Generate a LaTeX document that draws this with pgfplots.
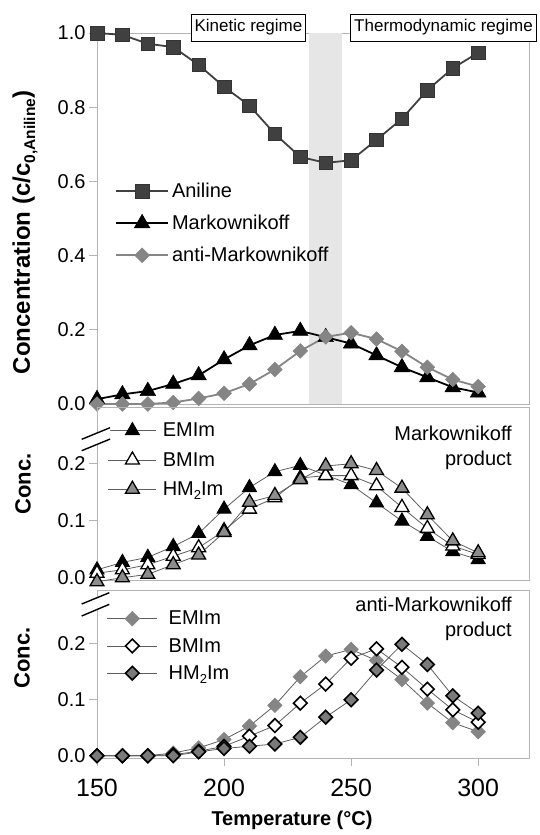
\documentclass[border=0pt]{standalone}
\usepackage{pgfplots}
\usepackage{pgfplotstable}
\pgfplotsset{compat=1.18}
\usepackage{fontspec}
\setmainfont{Liberation Sans}
\definecolor{axgray}{HTML}{B4B4B4}
\definecolor{anil}{HTML}{404040}
\definecolor{antigray}{HTML}{858585}
\definecolor{midgray}{HTML}{8C8C8C}
\definecolor{hmgray}{HTML}{7A7A7A}
\definecolor{thinline}{HTML}{5E5E5E}
\definecolor{shadecol}{HTML}{E6E6E6}
\newcommand{\fs}[1]{\fontsize{#1}{#1}\selectfont}
\newcommand{\sub}[2]{\raisebox{-0.22em}{\fontsize{#1}{#1}\selectfont #2}}

\pgfplotstableread{
T Anil Mark Anti
150 1.000 0.013 0.000
160 0.995 0.026 0.000
170 0.971 0.035 0.000
180 0.962 0.054 0.004
190 0.914 0.077 0.015
200 0.855 0.120 0.029
210 0.804 0.158 0.054
220 0.728 0.186 0.093
230 0.666 0.197 0.143
240 0.650 0.180 0.181
250 0.657 0.163 0.192
260 0.712 0.131 0.175
270 0.769 0.099 0.142
280 0.846 0.072 0.099
290 0.905 0.045 0.066
300 0.947 0.031 0.047
}\toptab

\pgfplotstableread{
T EMIm BMIm HMIm
150 0.013 0.007 -0.008
160 0.026 0.013 -0.001
170 0.035 0.022 0.005
180 0.054 0.037 0.022
190 0.077 0.052 0.039
200 0.120 0.082 0.079
210 0.158 0.120 0.132
220 0.186 0.140 0.144
230 0.197 0.175 0.172
240 0.180 0.179 0.196
250 0.163 0.179 0.200
260 0.131 0.161 0.188
270 0.099 0.123 0.157
280 0.072 0.086 0.110
290 0.045 0.055 0.064
300 0.031 0.040 0.043
}\midtab

\pgfplotstableread{
T EMIm BMIm HMIm
150 0.000 0.000 0.000
160 0.000 0.000 0.000
170 0.000 0.000 0.000
180 0.005 0.002 0.000
190 0.014 0.008 0.007
200 0.029 0.017 0.013
210 0.053 0.035 0.017
220 0.090 0.054 0.021
230 0.141 0.094 0.033
240 0.178 0.128 0.069
250 0.190 0.174 0.100
260 0.170 0.191 0.153
270 0.136 0.158 0.199
280 0.094 0.119 0.163
290 0.059 0.082 0.107
300 0.043 0.060 0.076
}\bottab

\pgfplotsset{
  panel/.style={
    scale only axis, width=432pt, xmin=150, xmax=320, clip=false,
    axis line style={draw=axgray, line width=1pt},
    every tick/.style={draw=axgray, line width=1pt},
    tick align=outside, major tick length=8pt,
    ytick pos=left, xtick pos=left,
    /pgf/number format/assume math mode=true,
    yticklabel style={font=\fs{20}, /pgf/number format/fixed, /pgf/number format/fixed zerofill, /pgf/number format/precision=1},
    legend cell align=left,
    legend style={draw=none, fill=none, font=\fs{20}, inner sep=0pt,
      nodes={inner sep=1pt}},
  },
  limg/.style={legend image code/.code={\draw[mark repeat=2,mark phase=2,##1] plot coordinates {(0pt,0pt) (#1/2,0pt) (#1,0pt)};}},
}

\begin{document}
\begin{tikzpicture}
% ---------- top panel ----------
\begin{axis}[panel, at={(97pt,-404pt)}, height=371pt, ymin=0, ymax=1,
  ytick={0,0.2,0.4,0.6,0.8,1.0}, xtick=\empty, limg=52pt,
  legend style={at={(axis description cs:0.0417,0.487)}, anchor=west, row sep=14pt,
    /tikz/every odd column/.append style={column sep=2pt}}]
  \fill[shadecol] (axis cs:233.5,0) rectangle (axis cs:246.5,1);
  \addplot[color=anil, line width=1.8pt, mark=square*, mark size=6.8pt,
    mark options={fill=anil, draw=black!80, line width=0.5pt}] table[x=T,y=Anil]{\toptab};
  \addlegendentry{Aniline}
  \addplot[black, line width=1.8pt, mark=triangle*, mark size=9pt,
    mark options={fill=black, line width=0.5pt}] table[x=T,y=Mark]{\toptab};
  \addlegendentry{Markownikoff}
  \addplot[antigray, line width=1.8pt, mark=square*, mark size=5.2pt,
    mark options={rotate=45, fill=antigray, draw=antigray, line width=0.5pt}] table[x=T,y=Anti]{\toptab};
  \addlegendentry{anti-Markownikoff}
\end{axis}
% ---------- middle panel ----------
\begin{axis}[panel, at={(97pt,-580pt)}, height=173pt, ymin=-0.005, ymax=0.3,
  ytick={0,0.1,0.2}, xtick=\empty, limg=48pt,
  legend style={at={(axis description cs:0.025,0.694)}, anchor=west, row sep=12pt,
    /tikz/every odd column/.append style={column sep=5pt}}]
  \addplot[thinline, line width=0.8pt, mark=triangle*, mark size=8pt,
    mark options={fill=black, draw=black, line width=1pt}] table[x=T,y=EMIm]{\midtab};
  \addlegendentry{EMIm}
  \addplot[thinline, line width=0.8pt, mark=triangle*, mark size=8pt,
    mark options={fill=white, draw=black, line width=1.3pt}] table[x=T,y=BMIm]{\midtab};
  \addlegendentry{BMIm}
  \addplot[thinline, line width=0.8pt, mark=triangle*, mark size=8pt,
    mark options={fill=midgray, draw=black, line width=1.3pt}] table[x=T,y=HMIm]{\midtab};
  \addlegendentry{HM\sub{13}{2}Im}
\end{axis}
% ---------- bottom panel ----------
\begin{axis}[panel, at={(97pt,-758pt)}, height=168pt, ymin=-0.004, ymax=0.296,
  ytick={0,0.1,0.2}, xtick={150,200,250,300},
  xticklabel style={font=\fs{25}, yshift=-9pt},
  limg=50pt,
  legend style={at={(axis description cs:0.0225,0.667)}, anchor=west, row sep=10pt,
    /tikz/every odd column/.append style={column sep=10pt}}]
  \addplot[thinline, line width=0.8pt, mark=square*, mark size=5pt,
    mark options={rotate=45, fill=antigray, draw=antigray, line width=0.8pt}] table[x=T,y=EMIm]{\bottab};
  \addlegendentry{EMIm}
  \addplot[thinline, line width=0.8pt, mark=square*, mark size=4.8pt,
    mark options={rotate=45, fill=white, draw=black, line width=1.6pt}] table[x=T,y=BMIm]{\bottab};
  \addlegendentry{BMIm}
  \addplot[thinline, line width=0.8pt, mark=square*, mark size=4.8pt,
    mark options={rotate=45, fill=hmgray, draw=black, line width=1.6pt}] table[x=T,y=HMIm]{\bottab};
  \addlegendentry{HM\sub{13}{2}Im}
\end{axis}
% ---------- annotations ----------
\node[draw=black, line width=0.8pt, fill=white, font=\fs{17}, inner xsep=3.5pt, inner ysep=5.5pt,
  text height=12.3pt, text depth=3.6pt] at (248.4pt,-27.5pt) {Kinetic regime};
\node[draw=black, line width=0.8pt, fill=white, font=\fs{17}, inner xsep=3.5pt, inner ysep=5.5pt,
  text height=12.3pt, text depth=3.6pt] at (443.5pt,-27.5pt) {Thermodynamic regime};
\node[font=\fs{20}, anchor=base east, inner sep=0pt] at (512pt,-440pt) {Markownikoff};
\node[font=\fs{20}, anchor=base east, inner sep=0pt] at (512pt,-465pt) {product};
\node[font=\fs{20}, anchor=base east, inner sep=0pt] at (512pt,-611pt) {anti-Markownikoff};
\node[font=\fs{20}, anchor=base east, inner sep=0pt] at (512pt,-636pt) {product};
% axis labels
\node[font=\bfseries\fs{24}, rotate=90, inner sep=0pt] at (25pt,-232.5pt) {Concentration (c/c\sub{15.5}{0,Aniline})};
\node[font=\bfseries\fs{22}, rotate=90, inner sep=0pt] at (23pt,-484pt) {Conc.};
\node[font=\bfseries\fs{22}, rotate=90, inner sep=0pt] at (22pt,-658pt) {Conc.};
\node[font=\bfseries\fs{20}, inner sep=0pt] at (292pt,-820pt) {Temperature (°C)};
% axis breaks
\fill[white] (81.7pt,-439.3pt) -- (110pt,-427.7pt) -- (110pt,-439.1pt) -- (81.7pt,-450.7pt) -- cycle;
\draw[black, line width=1.4pt] (81.7pt,-439.3pt) -- (110pt,-427.7pt);
\draw[black, line width=1.4pt] (81.7pt,-450.7pt) -- (110pt,-439.1pt);
\fill[white] (81.7pt,-604pt) -- (109.3pt,-592.7pt) -- (109.3pt,-604.3pt) -- (81.7pt,-616pt) -- cycle;
\draw[black, line width=1.4pt] (81.7pt,-604pt) -- (109.3pt,-592.7pt);
\draw[black, line width=1.4pt] (81.7pt,-616pt) -- (109.3pt,-604.3pt);
\pgfresetboundingbox
\path[use as bounding box] (0pt,0pt) rectangle (539pt,-835pt);
\end{tikzpicture}
\end{document}
